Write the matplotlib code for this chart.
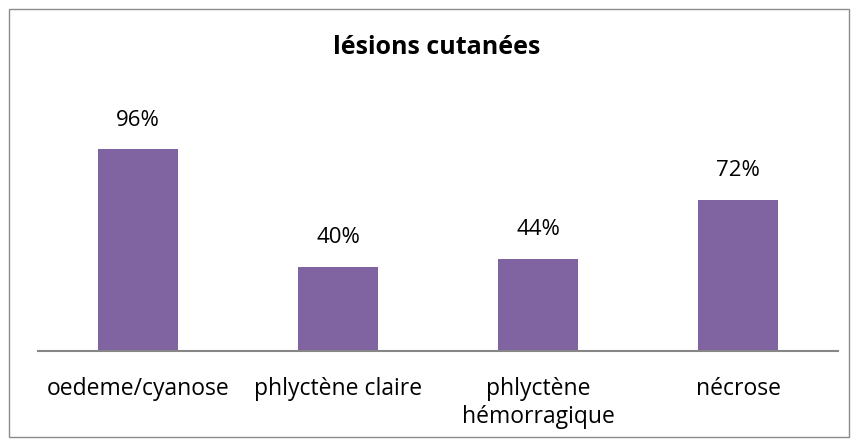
import matplotlib
matplotlib.use('Agg')
import matplotlib.pyplot as plt
from matplotlib.patches import Rectangle

categories = ['oedeme/cyanose', 'phlyctène claire', 'phlyctène\nhémorragique', 'nécrose']
values = [96, 40, 44, 72]
labels = ['96%', '40%', '44%', '72%']

plt.rcParams['font.family'] = ['Open Sans', 'DejaVu Sans']

fig = plt.figure(figsize=(8.57, 4.45), dpi=100)
# cadre du graphique
fig.patches.append(Rectangle((9 / 857, 8 / 445), 840 / 857, 428 / 445,
                             transform=fig.transFigure, fill=False,
                             edgecolor='#8c8c8c', linewidth=1))

ax = fig.add_axes([38 / 857, 94 / 445, 800 / 857, 252 / 445])
x = range(len(categories))
ax.bar(x, values, width=0.4, color='#8064A2')
for i, v in enumerate(values):
    ax.annotate(labels[i], (i, v), xytext=(0, 21), textcoords='offset points',
                ha='center', va='center', fontsize=16)

ax.set_xlim(-0.5, 3.5)
ax.set_ylim(0, 120)
ax.set_xticks(list(x))
ax.set_xticklabels(categories, fontsize=16.5, va='top', linespacing=1.2)
ax.tick_params(axis='x', length=0, pad=19)
ax.set_yticks([])
for s in ['top', 'right', 'left']:
    ax.spines[s].set_visible(False)
ax.spines['bottom'].set_color('#868686')
ax.spines['bottom'].set_linewidth(1.5)

fig.text(437 / 857, 1 - 48 / 445, 'lésions cutanées', ha='center', va='center',
         fontsize=18, fontweight='bold')

fig.savefig('out.png', dpi=100)
